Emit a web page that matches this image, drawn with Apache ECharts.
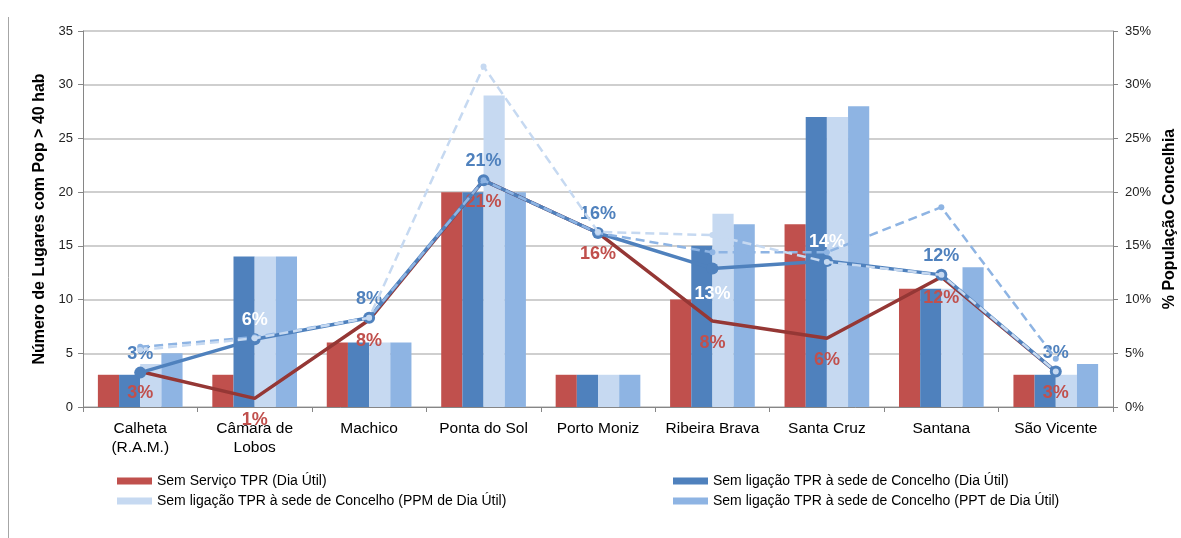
<!DOCTYPE html>
<html>
<head>
<meta charset="utf-8">
<script src="https://cdn.jsdelivr.net/npm/echarts@6/dist/echarts.min.js"></script>
<style>
  html, body { margin: 0; padding: 0; background: #fff; }
  #chart { width: 1181px; height: 538px; }
</style>
</head>
<body>
<div id="chart"></div>
<script>
// Concelhos da Região Autónoma da Madeira
const categories = ['Calheta\n(R.A.M.)', 'Câmara de\nLobos', 'Machico', 'Ponta do Sol', 'Porto Moniz',
  'Ribeira Brava', 'Santa Cruz', 'Santana', 'São Vicente'];

// Número de lugares com população > 40 hab (eixo esquerdo)
const semServico = [3, 3, 6, 20, 3, 10, 17, 11, 3];
const semLigacaoDiaUtil = [3, 14, 6, 20, 3, 15, 27, 11, 3];
const semLigacaoPPM = [4, 14, 6, 29, 3, 18, 27, 11, 3];
const semLigacaoPPT = [5, 14, 6, 20, 3, 17, 28, 13, 4];

// % da população concelhia (eixo direito)
const pctSemServico = [3.3, 0.8, 8.1, 21.1, 16.2, 8.0, 6.4, 12.1, 3.3];
const pctSemLigacaoDiaUtil = [3.2, 6.3, 8.3, 21.1, 16.2, 12.9, 13.6, 12.3, 3.3];
const pctSemLigacaoPPM = [5.3, 6.4, 8.3, 31.7, 16.3, 16.0, 13.5, 12.3, 3.3];
const pctSemLigacaoPPT = [5.6, 6.5, 8.3, 21.1, 16.2, 14.4, 14.4, 18.6, 4.5];

const leftTicks = { min: 0, max: 35, interval: 5 };
const rightTicks = { min: 0, max: 35, interval: 5 };

const barNames = [
  'Sem Serviço TPR (Dia Útil)',
  'Sem ligação TPR à sede de Concelho (Dia Útil)',
  'Sem ligação TPR à sede de Concelho (PPM de Dia Útil)',
  'Sem ligação TPR à sede de Concelho (PPT de Dia Útil)'
];

const RED = '#c0504d', RED_LINE = '#953735', BLUE = '#4f81bd', PALE = '#c6d9f1', MID = '#8eb4e3';
const FONT = '"Liberation Sans", Arial, sans-serif';

// where the dark blue labels sit and which ones are drawn in white
const blueLabelBelow = [false, false, false, false, false, true, false, false, false];
const blueLabelWhite = [false, true, false, false, false, true, true, false, false];

const pctFmt = p => Math.round(p.value) + '%';

const chart = echarts.init(document.getElementById('chart'), null, { renderer: 'canvas' });

function bar(name, data, color) {
  return {
    type: 'bar', name, data, yAxisIndex: 0,
    barGap: '0%', barCategoryGap: '26%',
    itemStyle: { color },
    emphasis: { disabled: true }
  };
}

const labelBase = { show: true, fontFamily: FONT, fontSize: 18, fontWeight: 'bold', formatter: pctFmt };
const legendText = { fontSize: 14, color: '#000', lineHeight: 16, fontFamily: FONT };

chart.setOption({
  animation: false,
  textStyle: { fontFamily: FONT },
  grid: { left: 83, right: 68, top: 31, bottom: 131, containLabel: false, outerBoundsMode: 'none' },
  legend: [
    {
      left: 117, top: 473, padding: 0, orient: 'vertical', itemGap: 4, itemWidth: 35, itemHeight: 7,
      icon: 'rect', selectedMode: false,
      data: [barNames[0], barNames[2]],
      textStyle: legendText
    },
    {
      left: 673, top: 473, padding: 0, orient: 'vertical', itemGap: 4, itemWidth: 35, itemHeight: 7,
      icon: 'rect', selectedMode: false,
      data: [barNames[1], barNames[3]],
      textStyle: legendText
    }
  ],
  xAxis: {
    type: 'category', data: categories,
    axisLine: { lineStyle: { color: '#868686', width: 1 } },
    axisTick: { show: true, alignWithLabel: false, interval: 0, length: 5, lineStyle: { color: '#868686' } },
    axisLabel: { interval: 0, fontSize: 15.5, color: '#000', margin: 12, lineHeight: 19, fontFamily: FONT }
  },
  yAxis: [
    {
      type: 'value', position: 'left', ...leftTicks,
      name: 'Número de Lugares com Pop > 40 hab', nameLocation: 'middle', nameGap: 35, nameRotate: 90,
      nameTextStyle: { fontSize: 16, fontWeight: 'bold', color: '#000', fontFamily: FONT },
      axisLine: { show: true, lineStyle: { color: '#868686' } },
      axisTick: { show: true, length: 5, inside: false, lineStyle: { color: '#868686' } },
      axisLabel: { fontSize: 13, color: '#222', margin: 10, fontFamily: FONT },
      splitLine: { show: true, lineStyle: { color: '#bfbfbf', width: 1.5 } }
    },
    {
      type: 'value', position: 'right', ...rightTicks,
      name: '% População Concelhia', nameLocation: 'middle', nameGap: 44, nameRotate: 90,
      nameTextStyle: { fontSize: 16, fontWeight: 'bold', color: '#000', fontFamily: FONT },
      axisLine: { show: true, lineStyle: { color: '#868686' } },
      axisTick: { show: true, length: 5, inside: false, lineStyle: { color: '#868686' } },
      axisLabel: { fontSize: 13, color: '#222', margin: 12, formatter: '{value}%', fontFamily: FONT },
      splitLine: { show: false }
    }
  ],
  series: [
    bar(barNames[0], semServico, RED),
    bar(barNames[1], semLigacaoDiaUtil, BLUE),
    bar(barNames[2], semLigacaoPPM, PALE),
    bar(barNames[3], semLigacaoPPT, MID),
    {
      type: 'line', name: '% Sem Serviço TPR', yAxisIndex: 1, data: pctSemServico,
      showSymbol: true, symbol: 'circle', symbolSize: 1,
      lineStyle: { color: RED_LINE, width: 3.5 },
      itemStyle: { color: RED_LINE },
      label: { ...labelBase, position: 'bottom', distance: 12, color: RED },
      emphasis: { disabled: true }, z: 3
    },
    {
      type: 'line', name: '% Sem ligação (Dia Útil)', yAxisIndex: 1,
      data: pctSemLigacaoDiaUtil.map((v, i) => ({
        value: v,
        label: {
          position: blueLabelBelow[i] ? 'bottom' : 'top',
          distance: blueLabelBelow[i] ? 11 : 4,
          color: blueLabelWhite[i] ? '#fff' : BLUE
        }
      })),
      symbol: 'circle', symbolSize: 12, showSymbol: true,
      lineStyle: { color: BLUE, width: 3.5 },
      itemStyle: { color: BLUE },
      label: { ...labelBase },
      emphasis: { disabled: true }, z: 4
    },
    {
      type: 'line', name: '% Sem ligação (PPT)', yAxisIndex: 1, data: pctSemLigacaoPPT,
      symbol: 'circle', symbolSize: 6, showSymbol: true,
      lineStyle: { color: MID, width: 2.5, type: [9, 5] },
      itemStyle: { color: MID },
      emphasis: { disabled: true }, z: 5
    },
    {
      type: 'line', name: '% Sem ligação (PPM)', yAxisIndex: 1, data: pctSemLigacaoPPM,
      symbol: 'circle', symbolSize: 6, showSymbol: true,
      lineStyle: { color: PALE, width: 2.5, type: [9, 5] },
      itemStyle: { color: PALE },
      emphasis: { disabled: true }, z: 6
    }
  ],
  graphic: [
    { type: 'line', shape: { x1: 8.5, y1: 17, x2: 8.5, y2: 538 }, style: { stroke: '#a6a6a6', lineWidth: 1 }, silent: true }
  ]
});
</script>
</body>
</html>
